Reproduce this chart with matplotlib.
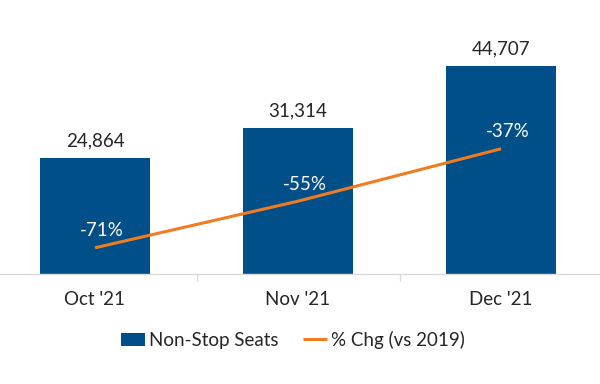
import matplotlib
matplotlib.use("Agg")
import matplotlib.pyplot as plt
from matplotlib.ticker import FixedLocator

categories = ["Oct '21", "Nov '21", "Dec '21"]
seats = [24864, 31314, 44707]
pct_chg = [-71, -55, -37]

plt.rcParams['font.family'] = ['Lato', 'DejaVu Sans']

BAR = '#004F88'
LINE = '#F07C22'
TXT = '#262626'

fig = plt.figure(figsize=(6, 3.84), dpi=100)
ax = fig.add_axes([-6.5/600, 110/384, 609/600, 233/384])
x = list(range(len(categories)))
ax.bar(x, seats, width=0.54, color=BAR, zorder=2, label='Non-Stop Seats')
ax.set_xlim(-0.5, 2.5)
ax.set_ylim(0, 50000)
ax.set_yticks([])
for s in ['top', 'right', 'left']:
    ax.spines[s].set_visible(False)
ax.spines['bottom'].set_color('#D9D9D9')
ax.spines['bottom'].set_linewidth(1)
ax.set_xticks(x)
ax.set_xticklabels(categories, fontsize=13.5, color=TXT)
ax.tick_params(axis='x', which='major', length=0, pad=12)
ax.xaxis.set_minor_locator(FixedLocator([0.5, 1.5]))
ax.tick_params(axis='x', which='minor', length=5, color='#D9D9D9', width=1)

for xi, v in zip(x, seats):
    ax.annotate(f"{v:,}", (xi, v), xytext=(0, 6), textcoords='offset points',
                ha='center', va='bottom', fontsize=13.5, color=TXT)

ax2 = ax.twinx()
ax2.set_ylim(-80, 0)
ax2.set_yticks([])
for s in ['top', 'right', 'left', 'bottom']:
    ax2.spines[s].set_visible(False)
ax2.plot(x, pct_chg, color=LINE, linewidth=2.2, solid_capstyle='butt', label='% Chg (vs 2019)', zorder=3)
for xi, v in zip(x, pct_chg):
    ax2.annotate(f"{v}%", (xi, v), xytext=(5, 6), textcoords='offset points',
                 ha='center', va='bottom', fontsize=13.5, color='white')

h1, l1 = ax.get_legend_handles_labels()
h2, l2 = ax2.get_legend_handles_labels()
fig.legend(h1 + h2, l1 + l2, loc='center', bbox_to_anchor=(293/600, 44/384), ncol=2,
           frameon=False, fontsize=13.5, labelcolor=TXT, handlelength=1.3,
           handletextpad=0.2, columnspacing=1.3, handleheight=0.7)

fig.savefig('out.png', dpi=100)
